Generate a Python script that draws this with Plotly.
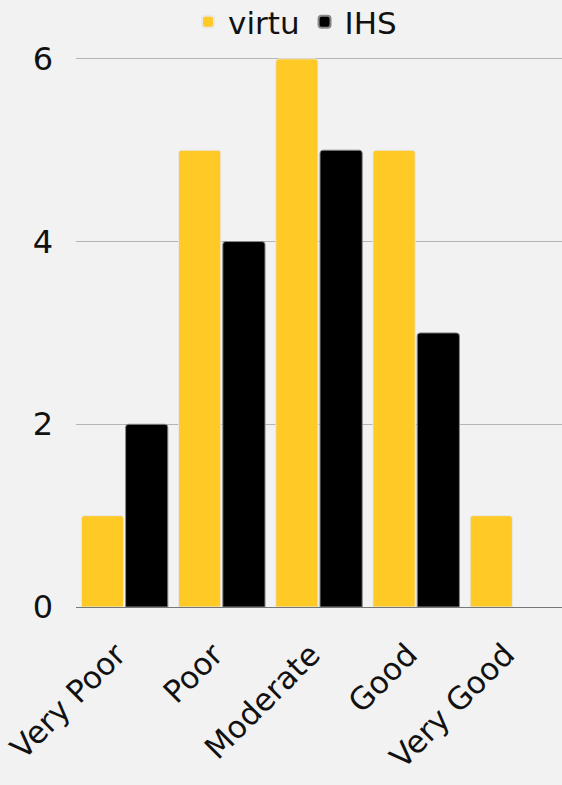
import plotly.graph_objects as go

categories = ["Very Poor", "Poor", "Moderate", "Good", "Very Good"]
virtu = [1, 5, 6, 5, 1]
ihs = [2, 4, 5, 3, 0]
y_ticks = [0, 2, 4, 6]

FONT = "DejaVu Sans"
fig = go.Figure()
fig.add_trace(go.Bar(name="virtu", x=categories, y=virtu,
                     marker=dict(color="#FFC926", line=dict(color="#e8e8e8", width=1), cornerradius=3)))
fig.add_trace(go.Bar(name="IHS", x=categories, y=ihs,
                     marker=dict(color="#000000",
                                 line=dict(color="#888888", width=[1 if v else 0 for v in ihs]),
                                 cornerradius=3)))

fig.update_layout(
    width=562, height=785,
    paper_bgcolor="#f2f2f2", plot_bgcolor="#f2f2f2",
    margin=dict(l=76, r=0, t=57, b=178, autoexpand=False),
    barmode="group", bargap=0.09, bargroupgap=0.045,
    font=dict(family=FONT, color="#111111"),
    legend=dict(orientation="h", x=0.525, xanchor="center", xref="container",
                y=0.972, yanchor="middle", yref="container",
                font=dict(size=31, family=FONT), itemwidth=30, itemsizing="constant",
                bgcolor="rgba(0,0,0,0)", traceorder="normal"),
    showlegend=True,
)
fig.update_xaxes(tickangle=-45, tickfont=dict(size=31, family=FONT), showgrid=False,
                 showline=True, linecolor="#777777", linewidth=1, ticks="",
                 ticklabelstandoff=16, ticklabelshift=-8, automargin=False)
fig.update_yaxes(range=[0, 6.02], tickvals=y_ticks, tickfont=dict(size=32, family=FONT),
                 showgrid=True, gridcolor="#b5b5b5", gridwidth=1, zeroline=False,
                 showline=False, ticks="", ticklabelstandoff=22, automargin=False)

fig.write_html("out.html")
